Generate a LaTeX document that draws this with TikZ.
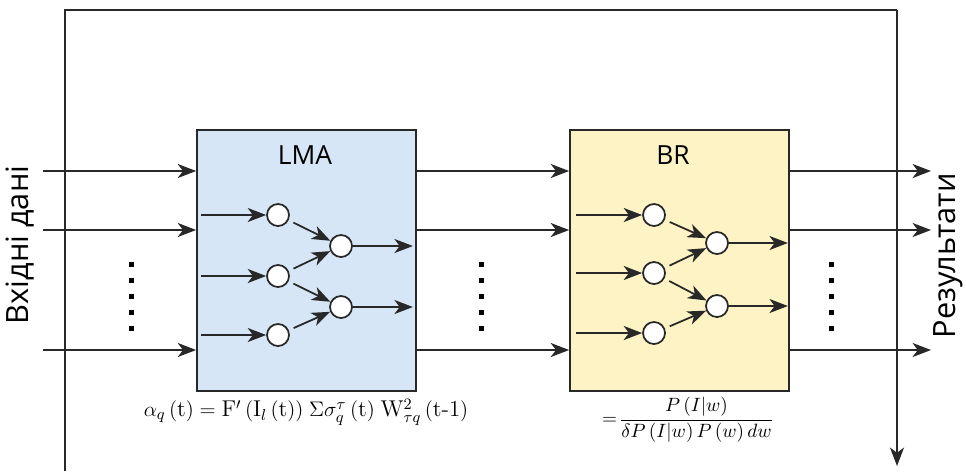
\documentclass[tikz,border=0pt]{standalone}
\usepackage{amsmath}
\usepackage{fontspec}
\usepackage{tikz}
\usetikzlibrary{arrows.meta}
\newfontfamily\labelfont{Open Sans}
\definecolor{lmablue}{RGB}{214,230,246}
\definecolor{bryellow}{RGB}{253,243,196}
\definecolor{edge}{RGB}{40,40,40}

\tikzset{
  arr/.style={line width=1pt,-{Stealth[length=10.5pt,width=8pt,inset=3pt]}},
  block/.style={draw=edge,line width=1pt,minimum width=4.38cm,minimum height=5.22cm,inner sep=0pt},
  neuron/.style={circle,draw=edge,fill=white,line width=1pt,minimum size=0.44cm,inner sep=0pt},
}

\begin{document}
\begin{tikzpicture}[x=0.02cm,y=-0.02cm,line width=1pt,draw=edge]
    \useasboundingbox (0,0) rectangle (966,471);

    % frame
    \coordinate (fl) at (65,471);
    \coordinate (ftl) at (65,10);
    \coordinate (ftr) at (897,10);
    \coordinate (fr) at (897,466);
    \draw[line width=0.8pt] (fl) -- (ftl) -- (ftr);
    \draw[arr,line width=0.8pt] (ftr) -- (fr);

    % blocks
    \node[block,fill=lmablue] (lma) at (306.5,260.5) {};
    \node[block,fill=bryellow] (br) at (679.5,260.5) {};
    \node[font=\labelfont\fontsize{15}{18}\selectfont] (lmaname) at (305,155) {LMA};
    \node[font=\labelfont\fontsize{15}{18}\selectfont] (brname) at (673,155) {BR};

    % rows
    \coordinate (r1) at (43,171);
    \coordinate (r2) at (43,230);
    \coordinate (r3) at (43,350);
    \coordinate (o1) at (931,171);
    \coordinate (o2) at (931,230);
    \coordinate (o3) at (931,350);
    \foreach \r in {1,2,3} {
        \draw[arr] (r\r) -- (r\r -| lma.west);
        \draw[arr] (r\r -| lma.east) -- (r\r -| br.west);
        \draw[arr] (r\r -| br.east) -- (o\r);
    }

    % LMA network
    \node[neuron] (a1) at (278,215) {};
    \node[neuron] (a2) at (278,276) {};
    \node[neuron] (a3) at (278,335) {};
    \node[neuron] (b1) at (341,246) {};
    \node[neuron] (b2) at (341,307) {};

    % BR network
    \node[neuron] (c1) at (654,215) {};
    \node[neuron] (c2) at (654,273) {};
    \node[neuron] (c3) at (654,333) {};
    \node[neuron] (d1) at (717,243) {};
    \node[neuron] (d2) at (717,306) {};

    \foreach \n in {a1,a2,a3} {
        \draw[arr] ([xshift=0.1cm]lma.west |- \n) -- (\n);
    }
    \foreach \n in {c1,c2,c3} {
        \draw[arr] ([xshift=0.14cm]br.west |- \n) -- (\n);
    }
    \foreach \n in {b1,b2} {
        \draw[arr] (\n) -- ([xshift=-0.08cm]lma.east |- \n);
    }
    \foreach \n in {d1,d2} {
        \draw[arr] (\n) -- ([xshift=-0.04cm]br.east |- \n);
    }
    \draw[arr,shorten <=3pt] (a1) -- (b1);
    \draw[arr,shorten <=3pt] (a2) -- (b1);
    \draw[arr,shorten <=3pt] (a2) -- (b2);
    \draw[arr,shorten <=3pt] (a3) -- (b2);
    \draw[arr,shorten <=3pt] (c1) -- (d1);
    \draw[arr,shorten <=3pt] (c2) -- (d1);
    \draw[arr,shorten <=3pt] (c2) -- (d2);
    \draw[arr,shorten <=3pt] (c3) -- (d2);

    % dots
    \foreach \x in {131,481,831} {
        \foreach \y in {264,280,296,312,328} {
            \fill[black] (\x-2.5,\y-2.5) rectangle ++(5,5);
        }
    }

    % side labels
    \node[rotate=90,font=\labelfont\fontsize{17.5}{20}\selectfont] (inlabel) at (20,245) {Вхідні дані};
    \node[rotate=90,font=\labelfont\fontsize{17.5}{20}\selectfont] (outlabel) at (948,256) {Результати};

    % formulas
    \node[font=\fontsize{13}{15}\selectfont] (lmaform) at (306,412)
        {$\alpha_q\,(\mathrm{t}) = \mathrm{F'}\,(\mathrm{I}_l\,(\mathrm{t}))\;\Sigma\sigma^{\tau}_q\,(\mathrm{t})\;\mathrm{W}^2_{\tau q}\,(\mathrm{t\text{-}1})$};
    \node[font=\fontsize{11}{13}\selectfont] (brform) at (688,420)
        {$=\!\dfrac{P\,(I|w)}{\delta P\,(I|w)\,P\,(w)\,dw}$};
\end{tikzpicture}
\end{document}
